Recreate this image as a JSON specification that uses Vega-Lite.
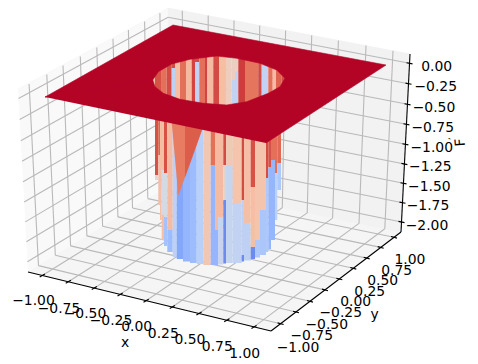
{"$schema":"https://vega.github.io/schema/vega-lite/v6.json","width":478,"height":364,"autosize":{"type":"fit","contains":"padding"},"padding":0,"background":"white","config":{"view":{"stroke":null}},
"datasets":{
"panes":[
{"pane":"left","o":1,"px":18,"py":89},{"pane":"left","o":2,"px":168,"py":8},{"pane":"left","o":3,"px":170,"py":185},{"pane":"left","o":4,"px":28,"py":272},
{"pane":"back","o":1,"px":168,"py":8},{"pane":"back","o":2,"px":410,"py":54},{"pane":"back","o":3,"px":401,"py":232},{"pane":"back","o":4,"px":170,"py":185},
{"pane":"floor","o":1,"px":170,"py":185},{"pane":"floor","o":2,"px":401,"py":232},{"pane":"floor","o":3,"px":271,"py":331},{"pane":"floor","o":4,"px":28,"py":272}],
"grid":[
{"x0":168.1,"y0":17.2,"x1":409.5,"y1":63.3},{"x0":168.4,"y0":37.6,"x1":408.5,"y1":83.7},{"x0":168.7,"y0":58,"x1":407.5,"y1":104.3},{"x0":169,"y0":78,"x1":406.4,"y1":124.3},{"x0":169.2,"y0":97.7,"x1":405.4,"y1":144.3},{"x0":169.5,"y0":117.4,"x1":404.4,"y1":164},{"x0":169.7,"y0":136.5,"x1":403.5,"y1":183.3},{"x0":170,"y0":155.8,"x1":402.5,"y1":202.7},{"x0":170.3,"y0":175,"x1":401.5,"y1":222},
{"x0":168.1,"y0":17.2,"x1":18.5,"y1":98.5},{"x0":168.4,"y0":37.6,"x1":19.7,"y1":119.6},{"x0":168.7,"y0":58,"x1":20.8,"y1":140.8},{"x0":169,"y0":78,"x1":22,"y1":161.3},{"x0":169.2,"y0":97.7,"x1":23.1,"y1":181.8},{"x0":169.5,"y0":117.4,"x1":24.2,"y1":202},{"x0":169.7,"y0":136.5,"x1":25.3,"y1":221.9},{"x0":170,"y0":155.8,"x1":26.4,"y1":241.8},{"x0":170.3,"y0":175,"x1":27.4,"y1":261.8},
{"x0":29.1,"y0":84,"x1":38.5,"y1":265.6},{"x0":46.8,"y0":74.5,"x1":55.3,"y1":255.3},{"x0":63,"y0":65.5,"x1":70.6,"y1":245.9},{"x0":80.3,"y0":56.5,"x1":86.9,"y1":235.9},{"x0":96.8,"y0":47.5,"x1":102.6,"y1":226.3},{"x0":113,"y0":38.7,"x1":117.9,"y1":216.9},{"x0":128.4,"y0":30,"x1":132.5,"y1":208},{"x0":144.6,"y0":21.5,"x1":147.8,"y1":198.6},{"x0":159.9,"y0":13,"x1":162.3,"y1":189.7},
{"x0":38.5,"y0":265.6,"x1":280.6,"y1":323.7},{"x0":55.3,"y0":255.3,"x1":296,"y1":312},{"x0":70.6,"y0":245.9,"x1":310,"y1":301.3},{"x0":86.9,"y0":235.9,"x1":325,"y1":289.9},{"x0":102.6,"y0":226.3,"x1":339.3,"y1":279},{"x0":117.9,"y0":216.9,"x1":353.3,"y1":268.3},{"x0":132.5,"y0":208,"x1":366.7,"y1":258.1},{"x0":147.8,"y0":198.6,"x1":380.7,"y1":247.4},{"x0":162.3,"y0":189.7,"x1":394,"y1":237.3},
{"x0":182.3,"y0":10.7,"x1":183.6,"y1":187.8},{"x0":208.2,"y0":15.6,"x1":208.3,"y1":192.8},{"x0":234,"y0":20.6,"x1":233,"y1":197.8},{"x0":259.7,"y0":25.4,"x1":257.5,"y1":202.8},{"x0":285.6,"y0":30.4,"x1":282.3,"y1":207.8},{"x0":311.7,"y0":35.3,"x1":307.2,"y1":212.9},{"x0":338.4,"y0":40.4,"x1":332.6,"y1":218.1},{"x0":366,"y0":45.6,"x1":359,"y1":223.4},{"x0":393,"y0":50.8,"x1":384.8,"y1":228.7},
{"x0":183.6,"y0":187.8,"x1":42.3,"y1":275.5},{"x0":208.3,"y0":192.8,"x1":68.3,"y1":281.8},{"x0":233,"y0":197.8,"x1":94.3,"y1":288.1},{"x0":257.5,"y0":202.8,"x1":120.1,"y1":294.4},{"x0":282.3,"y0":207.8,"x1":146.1,"y1":300.7},{"x0":307.2,"y0":212.9,"x1":172.3,"y1":307},{"x0":332.6,"y0":218.1,"x1":199,"y1":313.5},{"x0":359,"y0":223.4,"x1":226.8,"y1":320.3},{"x0":384.8,"y0":228.7,"x1":254,"y1":326.9}],
"axes":[
{"x0":28,"y0":272,"x1":271,"y1":331},{"x0":271,"y0":331,"x1":401,"y1":232},{"x0":401,"y0":232,"x1":410,"y1":54},
{"x0":39.7,"y0":277,"x1":44.9,"y1":274},{"x0":65.7,"y0":283.3,"x1":70.9,"y1":280.3},{"x0":91.7,"y0":289.6,"x1":96.9,"y1":286.6},{"x0":117.5,"y0":295.9,"x1":122.7,"y1":292.9},{"x0":143.5,"y0":302.2,"x1":148.7,"y1":299.2},{"x0":169.7,"y0":308.5,"x1":174.9,"y1":305.5},{"x0":196.4,"y0":315,"x1":201.6,"y1":312},{"x0":224.2,"y0":321.8,"x1":229.4,"y1":318.8},{"x0":251.4,"y0":328.4,"x1":256.6,"y1":325.4},
{"x0":277.6,"y0":322.9,"x1":283.6,"y1":324.5},{"x0":293,"y0":311.2,"x1":299,"y1":312.8},{"x0":307,"y0":300.5,"x1":313,"y1":302.1},{"x0":322,"y0":289.1,"x1":328,"y1":290.7},{"x0":336.3,"y0":278.2,"x1":342.3,"y1":279.8},{"x0":350.3,"y0":267.5,"x1":356.3,"y1":269.1},{"x0":363.7,"y0":257.3,"x1":369.7,"y1":258.9},{"x0":377.7,"y0":246.6,"x1":383.7,"y1":248.2},{"x0":391,"y0":236.5,"x1":397,"y1":238.1},
{"x0":406.5,"y0":62.7,"x1":412.5,"y1":63.9},{"x0":405.5,"y0":83.1,"x1":411.5,"y1":84.3},{"x0":404.5,"y0":103.7,"x1":410.5,"y1":104.9},{"x0":403.4,"y0":123.7,"x1":409.4,"y1":124.9},{"x0":402.4,"y0":143.7,"x1":408.4,"y1":144.9},{"x0":401.4,"y0":163.4,"x1":407.4,"y1":164.6},{"x0":400.5,"y0":182.7,"x1":406.5,"y1":183.9},{"x0":399.5,"y0":202.1,"x1":405.5,"y1":203.3},{"x0":398.5,"y0":221.4,"x1":404.5,"y1":222.6}],
"cells":[
{"a":150,"b":155,"t":50,"u":110,"f":-0.72},{"a":155,"b":161.7,"t":50,"u":110,"f":-0.22},{"a":161.7,"b":166.7,"t":50,"u":110,"f":-0.33},{"a":166.7,"b":171.7,"t":50,"u":110,"f":-0.2},{"a":171.7,"b":175,"t":50,"u":68,"f":-0.2},{"a":171.7,"b":175,"t":68,"u":110,"f":-1.2},{"a":175,"b":180,"t":50,"u":110,"f":-0.72},{"a":180,"b":186,"t":50,"u":110,"f":-0.33},{"a":186,"b":191.7,"t":50,"u":110,"f":-0.7},{"a":191.7,"b":195,"t":50,"u":110,"f":-0.18},{"a":195,"b":199.3,"t":50,"u":62,"f":-0.2},{"a":195,"b":199.3,"t":62,"u":110,"f":-1.18},{"a":199.3,"b":205,"t":50,"u":110,"f":-0.33},{"a":205,"b":207.3,"t":50,"u":110,"f":-0.18},{"a":207.3,"b":213.3,"t":50,"u":110,"f":-0.7},{"a":213.3,"b":219.3,"t":50,"u":110,"f":-0.2},{"a":219.3,"b":226.7,"t":50,"u":110,"f":-0.72},{"a":226.7,"b":231.7,"t":50,"u":110,"f":-0.85},{"a":231.7,"b":235,"t":50,"u":80,"f":-0.85},{"a":231.7,"b":235,"t":80,"u":110,"f":-1.18},{"a":235,"b":238.3,"t":50,"u":72,"f":-0.85},{"a":235,"b":238.3,"t":72,"u":110,"f":-1.18},{"a":238.3,"b":245,"t":50,"u":110,"f":-0.16},{"a":245,"b":258.3,"t":50,"u":110,"f":-0.35},{"a":258.3,"b":261.7,"t":50,"u":110,"f":-0.2},{"a":261.7,"b":268.3,"t":50,"u":66,"f":-0.72},{"a":261.7,"b":268.3,"t":66,"u":110,"f":-1.18},{"a":268.3,"b":272.7,"t":50,"u":110,"f":-0.33},{"a":272.7,"b":276,"t":50,"u":110,"f":-0.7},{"a":276,"b":281.7,"t":50,"u":110,"f":-0.28},{"a":281.7,"b":287,"t":50,"u":110,"f":-0.2},
{"a":155,"b":158.3,"t":115,"u":175,"f":-0.22},{"a":155,"b":158.3,"t":175,"u":180,"f":-0.95},
{"a":158.3,"b":160,"t":115,"u":155,"f":-0.28},{"a":158.3,"b":160,"t":155,"u":205,"f":-0.72},
{"a":160,"b":161.7,"t":115,"u":220,"f":-0.72},
{"a":161.7,"b":164,"t":115,"u":170,"f":-0.72},{"a":161.7,"b":164,"t":170,"u":215,"f":-1.05},{"a":161.7,"b":164,"t":215,"u":240,"f":-0.72},
{"a":164,"b":167.3,"t":115,"u":173,"f":-0.22},{"a":164,"b":167.3,"t":173,"u":217,"f":-1.05},{"a":164,"b":167.3,"t":217,"u":246,"f":-1.35},
{"a":167.3,"b":172.7,"t":115,"u":230,"f":-0.7},{"a":167.3,"b":172.7,"t":230,"u":252,"f":-1.4},
{"a":172.7,"b":176.7,"t":115,"u":257,"f":-1.2},
{"a":176.7,"b":183,"t":115,"u":259,"f":-1.55},{"a":183,"b":190,"t":115,"u":261.5,"f":-1.45},{"a":190,"b":196.7,"t":115,"u":263,"f":-1.4},{"a":196.7,"b":203.3,"t":115,"u":264,"f":-1.22},{"a":203.3,"b":210.7,"t":115,"u":265,"f":-0.78},
{"a":210.7,"b":215,"t":115,"u":165,"f":-0.33},{"a":210.7,"b":215,"t":165,"u":265,"f":-1.45},
{"a":215,"b":218,"t":115,"u":230,"f":-0.7},{"a":215,"b":218,"t":230,"u":265,"f":-1.45},
{"a":218,"b":223.3,"t":115,"u":217,"f":-0.7},{"a":218,"b":223.3,"t":217,"u":264.5,"f":-1.15},
{"a":223.3,"b":226,"t":115,"u":165,"f":-0.2},{"a":223.3,"b":226,"t":165,"u":200,"f":-0.9},{"a":223.3,"b":226,"t":200,"u":263.5,"f":-1.7},
{"a":226,"b":232.7,"t":115,"u":165,"f":-0.8},{"a":226,"b":232.7,"t":165,"u":263,"f":-1.14},
{"a":232.7,"b":241.7,"t":115,"u":203,"f":-0.75},{"a":232.7,"b":241.7,"t":203,"u":263,"f":-1.18},
{"a":241.7,"b":244,"t":115,"u":200,"f":-0.2},{"a":241.7,"b":244,"t":200,"u":255,"f":-1.2},{"a":241.7,"b":244,"t":255,"u":261.5,"f":-1.7},
{"a":244,"b":250.7,"t":115,"u":223,"f":-0.72},{"a":244,"b":250.7,"t":223,"u":260.5,"f":-1.2},
{"a":250.7,"b":255,"t":115,"u":187,"f":-0.22},{"a":250.7,"b":255,"t":187,"u":247,"f":-0.72},{"a":250.7,"b":255,"t":247,"u":259,"f":-1.7},
{"a":255,"b":260,"t":115,"u":240,"f":-0.75},{"a":255,"b":260,"t":240,"u":257.5,"f":-1.3},
{"a":260,"b":266,"t":115,"u":210,"f":-0.75},{"a":260,"b":266,"t":210,"u":255,"f":-1.32},
{"a":266,"b":268.3,"t":115,"u":178,"f":-0.2},{"a":266,"b":268.3,"t":178,"u":252,"f":-1.3},
{"a":268.3,"b":271,"t":115,"u":167,"f":-0.22},{"a":268.3,"b":271,"t":167,"u":249,"f":-1.45},
{"a":271,"b":275,"t":115,"u":160,"f":-0.33},{"a":271,"b":275,"t":160,"u":240,"f":-1.45},
{"a":275,"b":277.3,"t":115,"u":173,"f":-0.33},{"a":275,"b":277.3,"t":173,"u":220,"f":-1.2},
{"a":277.3,"b":281,"t":115,"u":163,"f":-0.3},{"a":277.3,"b":281,"t":163,"u":190,"f":-1.3}],
"polys":[
{"p":"t1","o":1,"px":171,"py":115,"f":-0.38},{"p":"t1","o":2,"px":207,"py":115,"f":-0.38},{"p":"t1","o":3,"px":178.3,"py":195,"f":-0.38},
{"p":"t2","o":1,"px":185,"py":115,"f":-0.25},{"p":"t2","o":2,"px":207,"py":115,"f":-0.25},{"p":"t2","o":3,"px":185,"py":176.4,"f":-0.25},
{"p":"plate","o":1,"px":45,"py":97,"f":0},{"p":"plate","o":2,"px":152.7,"py":80,"f":0},{"p":"plate","o":3,"px":155,"py":86.7,"f":0},{"p":"plate","o":4,"px":163.3,"py":93.3,"f":0},{"p":"plate","o":5,"px":180,"py":99.3,"f":0},{"p":"plate","o":6,"px":203.3,"py":103.3,"f":0},{"p":"plate","o":7,"px":226.7,"py":105,"f":0},{"p":"plate","o":8,"px":246.7,"py":101.7,"f":0},{"p":"plate","o":9,"px":268.3,"py":93.3,"f":0},{"p":"plate","o":10,"px":280,"py":86.7,"f":0},{"p":"plate","o":11,"px":285,"py":78.3,"f":0},{"p":"plate","o":12,"px":276.7,"py":70,"f":0},{"p":"plate","o":13,"px":260,"py":63.3,"f":0},{"p":"plate","o":14,"px":236.7,"py":58.3,"f":0},{"p":"plate","o":15,"px":216.7,"py":56,"f":0},{"p":"plate","o":16,"px":190,"py":59.3,"f":0},{"p":"plate","o":17,"px":171.7,"py":64,"f":0},{"p":"plate","o":18,"px":158.3,"py":71.7,"f":0},{"p":"plate","o":19,"px":152.7,"py":80,"f":0},{"p":"plate","o":20,"px":45,"py":97,"f":0},{"p":"plate","o":21,"px":173,"py":25,"f":0},{"p":"plate","o":22,"px":386,"py":65,"f":0},{"p":"plate","o":23,"px":266,"py":143,"f":0}],
"labels":[
{"t":"−1.00","px":33.5,"py":301},{"t":"−0.75","px":59,"py":309},{"t":"−0.50","px":85,"py":314},{"t":"−0.25","px":111,"py":321},{"t":"0.00","px":136.7,"py":327.3},{"t":"0.25","px":163.3,"py":334},{"t":"0.50","px":190,"py":340},{"t":"0.75","px":217.3,"py":347},{"t":"1.00","px":244.7,"py":353.5},{"t":"x","px":125,"py":343},
{"t":"−1.00","px":298,"py":347.7},{"t":"−0.75","px":311.7,"py":336},{"t":"−0.50","px":326.7,"py":325},{"t":"−0.25","px":340.7,"py":313.3},{"t":"0.00","px":355.7,"py":302},{"t":"0.25","px":369.7,"py":292},{"t":"0.50","px":382.7,"py":281},{"t":"0.75","px":396.7,"py":271},{"t":"1.00","px":410,"py":260},{"t":"y","px":374.7,"py":315},
{"t":"0.00","px":436.7,"py":67.3},{"t":"−0.25","px":435.7,"py":87.3},{"t":"−0.50","px":434,"py":108.3},{"t":"−0.75","px":432.7,"py":128.3},{"t":"−1.00","px":431.7,"py":148},{"t":"−1.25","px":430.3,"py":167.3},{"t":"−1.50","px":429.3,"py":187},{"t":"−1.75","px":428,"py":206},{"t":"−2.00","px":427,"py":225.7}],
"zlabel":[{"t":"F","px":460.7,"py":142.3}],
"prime":[{"t":"'","px":451.7,"py":140}]
},
"encoding":{
"x":{"type":"quantitative","scale":{"domain":[0,478],"nice":false,"zero":false},"axis":null},
"y":{"type":"quantitative","scale":{"domain":[364,0],"nice":false,"zero":false},"axis":null}},
"resolve":{"scale":{"fill":"independent"}},
"layer":[
{"data":{"name":"panes"},"mark":{"type":"line","strokeWidth":0.5},
"encoding":{"x":{"field":"px","type":"quantitative"},"y":{"field":"py","type":"quantitative"},"order":{"field":"o","type":"quantitative"},"detail":{"field":"pane"},
"fill":{"field":"pane","type":"nominal","legend":null,"scale":{"domain":["left","back","floor"],"range":["#f9f9f9","#f2f2f2","#f5f5f5"]}},
"stroke":{"field":"pane","type":"nominal","legend":null,"scale":{"domain":["left","back","floor"],"range":["#f4f4f4","#eeeeee","#f1f1f1"]}}}},
{"data":{"name":"grid"},"mark":{"type":"rule","color":"#b9b9b9","strokeWidth":1.1},"encoding":{"x":{"field":"x0","type":"quantitative"},"y":{"field":"y0","type":"quantitative"},"x2":{"field":"x1"},"y2":{"field":"y1"}}},
{"data":{"name":"axes"},"mark":{"type":"rule","color":"#000000","strokeWidth":1.1},"encoding":{"x":{"field":"x0","type":"quantitative"},"y":{"field":"y0","type":"quantitative"},"x2":{"field":"x1"},"y2":{"field":"y1"}}},
{"layer":[
{"data":{"name":"cells"},"mark":{"type":"rect","strokeWidth":0},"encoding":{"x":{"field":"a","type":"quantitative"},"x2":{"field":"b"},"y":{"field":"t","type":"quantitative"},"y2":{"field":"u"},
"fill":{"field":"f","type":"quantitative","legend":null,"scale":{"interpolate":"rgb","domain":[-2,-1.75,-1.5,-1.25,-1,-0.75,-0.5,-0.25,0],"range":["#3b4cc0","#6282ea","#8db0fe","#b6cefa","#dddcdc","#f5c4ac","#f4987a","#dc5d4a","#b40426"]}}}},
{"data":{"name":"polys"},"mark":{"type":"line","strokeWidth":0.6},"encoding":{"x":{"field":"px","type":"quantitative"},"y":{"field":"py","type":"quantitative"},"order":{"field":"o","type":"quantitative"},"detail":{"field":"p"},
"fill":{"field":"f","type":"quantitative","legend":null,"scale":{"interpolate":"rgb","domain":[-2,-1.75,-1.5,-1.25,-1,-0.75,-0.5,-0.25,0],"range":["#3b4cc0","#6282ea","#8db0fe","#b6cefa","#dddcdc","#f5c4ac","#f4987a","#dc5d4a","#b40426"]}},
"stroke":{"field":"f","type":"quantitative","legend":null,"scale":{"interpolate":"rgb","domain":[-2,-1.75,-1.5,-1.25,-1,-0.75,-0.5,-0.25,0],"range":["#3b4cc0","#6282ea","#8db0fe","#b6cefa","#dddcdc","#f5c4ac","#f4987a","#dc5d4a","#b40426"]}}}}
]},
{"data":{"name":"labels"},"mark":{"type":"text","font":"DejaVu Sans","fontSize":13.9,"color":"#000000","align":"center","baseline":"middle"},"encoding":{"x":{"field":"px","type":"quantitative"},"y":{"field":"py","type":"quantitative"},"text":{"field":"t"}}},
{"data":{"name":"zlabel"},"mark":{"type":"text","font":"DejaVu Sans","fontSize":13.9,"color":"#000000","align":"center","baseline":"middle","angle":265},"encoding":{"x":{"field":"px","type":"quantitative"},"y":{"field":"py","type":"quantitative"},"text":{"field":"t"}}},
{"data":{"name":"prime"},"mark":{"type":"text","font":"DejaVu Sans","fontSize":8,"color":"#000000","align":"center","baseline":"middle","angle":300},"encoding":{"x":{"field":"px","type":"quantitative"},"y":{"field":"py","type":"quantitative"},"text":{"field":"t"}}}
]}
